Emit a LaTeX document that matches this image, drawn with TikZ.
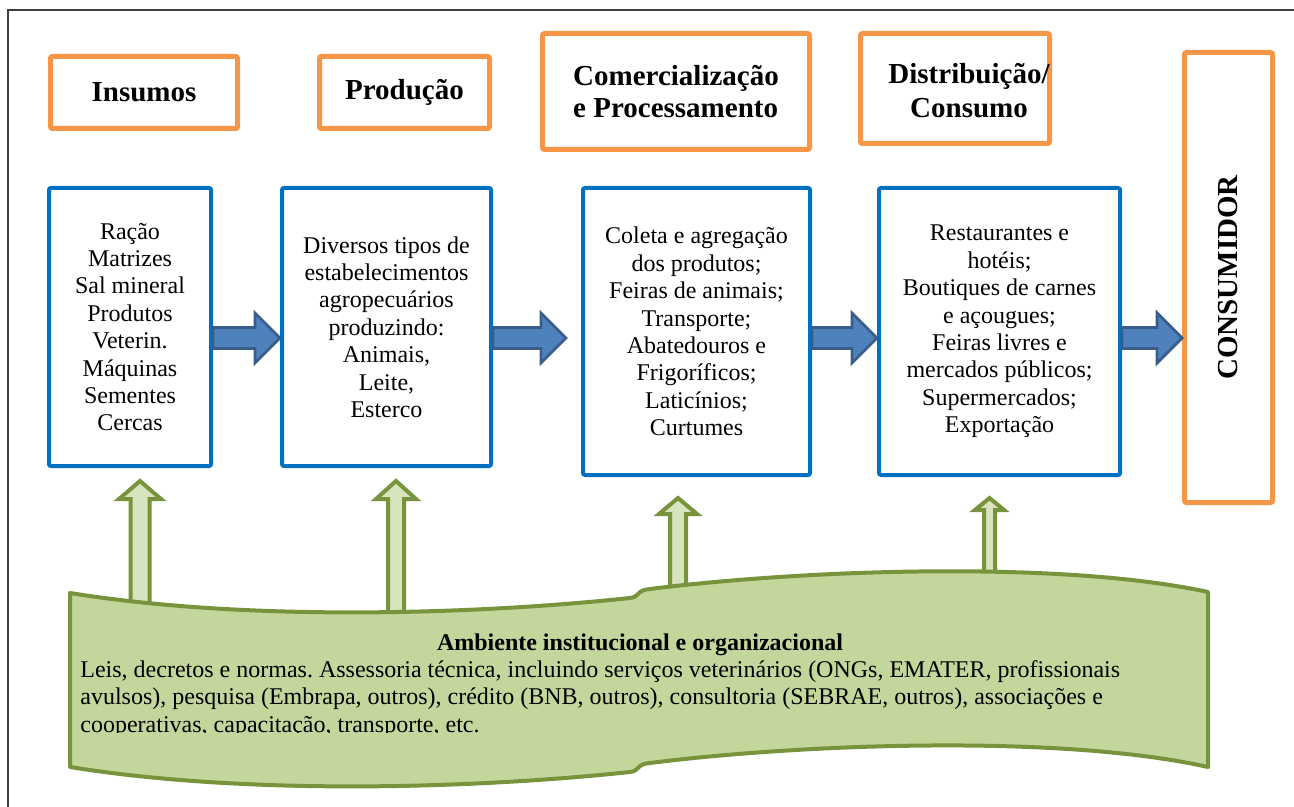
\documentclass[tikz,border=0pt]{standalone}
\usepackage{fontspec}
\setmainfont{Liberation Serif}
\usetikzlibrary{calc}
\frenchspacing
\definecolor{orng}{HTML}{F79646}
\definecolor{bluebx}{HTML}{0070C0}
\definecolor{arrfill}{HTML}{4F81BD}
\definecolor{arrdraw}{HTML}{385D8A}
\definecolor{grnfill}{HTML}{C3D69B}
\definecolor{grndraw}{HTML}{77933C}
\definecolor{grnarr}{HTML}{D7E4BD}
\newcommand\blockarrow[3]{%
  \draw[bluearrow] let \p1=(#1), \p2=(#2), \p3=(0,#3) in
   (\x1,\y3+5.25pt) -- (\x2-12.5pt,\y3+5.25pt) -- (\x2-12.5pt,\y3+12.5pt) -- (\x2,\y3)
   -- (\x2-12.5pt,\y3-12.5pt) -- (\x2-12.5pt,\y3-5.25pt) -- (\x1,\y3-5.25pt) -- cycle;}
\newcommand\uparr[6]{% cx, shaft half, head half, tip, head base, bottom
  \draw[greenarrow] (#1-#2,#6) -- (#1-#2,#5) -- (#1-#3,#5) -- (#1,#4) -- (#1+#3,#5)
   -- (#1+#2,#5) -- (#1+#2,#6) -- cycle;}
\begin{document}
\begin{tikzpicture}[x=0.5pt,y=-0.5pt,
 hdr/.style={draw=orng, line width=2.5pt, rounded corners=1pt, font=\fontsize{14.5}{16}\selectfont\bfseries, align=center, inner sep=0pt},
 stage/.style={draw=bluebx, line width=2pt, rounded corners=1pt, font=\fontsize{12}{13.7}\selectfont, align=center, inner sep=0pt},
 bluearrow/.style={fill=arrfill, draw=arrdraw, line width=1.4pt, line join=miter},
 greenarrow/.style={fill=grnarr, draw=grndraw, line width=2pt, line join=miter},
 banner/.style={fill=grnfill, draw=grndraw, line width=2pt, line join=round},
 bodytext/.style={font=\fontsize{12}{13.8}\selectfont, inner sep=0pt, anchor=base west}]
\useasboundingbox (0,0) rectangle (1294,807);
% outer frame
\draw[black!75, line width=0.8pt] (8,830) -- (8,10) -- (1310,10);
% header boxes
\node[hdr, minimum width=93.5pt, minimum height=36pt] (ins) at (144,92.5) {Insumos};
\node[hdr, minimum width=85pt, minimum height=36pt] (prod) at (404.5,92.5) {Produção};
\node[hdr, minimum width=133.5pt, minimum height=58pt, align=left] (com) at (676,91.5) {Comercialização\\e Processamento};
\node[hdr, minimum width=94.5pt, minimum height=55pt] (dis) at (955,88.5) {};
\node[font=\fontsize{14.5}{17}\selectfont\bfseries, align=center, inner sep=0pt] (distxt) at (969,91) {Distribuição/\\Consumo};
\node[hdr, minimum width=44pt, minimum height=225pt] (cons) at (1228.5,277.5) {\rotatebox{90}{CONSUMIDOR}};
% stage boxes
\node[stage, minimum width=81pt, minimum height=139pt] (b1) at (130,327) {Ração\\Matrizes\\Sal mineral\\Produtos\\Veterin.\\Máquinas\\Sementes\\Cercas};
\node[stage, minimum width=104.5pt, minimum height=139pt] (b2) at (386.5,327) {Diversos tipos de\\estabelecimentos\\agropecuários\\produzindo:\\Animais,\\Leite,\\Esterco};
\node[stage, minimum width=113.5pt, minimum height=143.5pt] (b3) at (696.5,331.5) {Coleta e agregação\\dos produtos;\\Feiras de animais;\\Transporte;\\Abatedouros e\\Frigoríficos;\\Laticínios;\\Curtumes};
\node[stage, minimum width=120.5pt, minimum height=143.5pt] (b4) at (999.5,331.5) {Restaurantes e\\hotéis;\\Boutiques de carnes\\e açougues;\\Feiras livres e\\mercados públicos;\\Supermercados;\\Exportação};
% blue block arrows
\coordinate (t2) at (566,338);
\blockarrow{b1.east}{b2.west}{338}
\blockarrow{b2.east}{t2}{338}
\blockarrow{b3.east}{b4.west}{338}
\blockarrow{b4.east}{cons.west}{338}
% green up arrows
\uparr{140}{9.5}{21}{481}{499}{630}
\uparr{396}{8}{20}{481}{499}{630}
\uparr{678}{8}{19}{498}{514}{605}
\uparr{989.5}{5.5}{14.5}{498}{510}{595}
% banner
\draw[banner] (70,593) .. controls (250,622) and (480,614) .. (630,598)
  .. controls (640,597) and (636,590) .. (650,589)
  .. controls (800,570) and (1060,560) .. (1208,592)
  -- (1208,767)
  .. controls (1060,734) and (800,744) .. (650,763)
  .. controls (636,764) and (640,771) .. (630,772)
  .. controls (480,788) and (250,796) .. (70,767) -- cycle;
\node[font=\fontsize{12}{13.8}\selectfont\bfseries, inner sep=0pt, anchor=base] (amb) at (640,650) {Ambiente institucional e organizacional};
\begin{scope}
\clip (60,600) rectangle (1200,732.5);
\node[bodytext] (l1) at (80,677) {Leis, decretos e normas. Assessoria técnica, incluindo serviços veterinários (ONGs, EMATER, profissionais};
\node[bodytext] (l2) at (80,704) {avulsos), pesquisa (Embrapa, outros), crédito (BNB, outros), consultoria (SEBRAE, outros), associações e};
\node[bodytext] (l3) at (80,732) {cooperativas, capacitação, transporte, etc.};
\end{scope}
\end{tikzpicture}
\end{document}
